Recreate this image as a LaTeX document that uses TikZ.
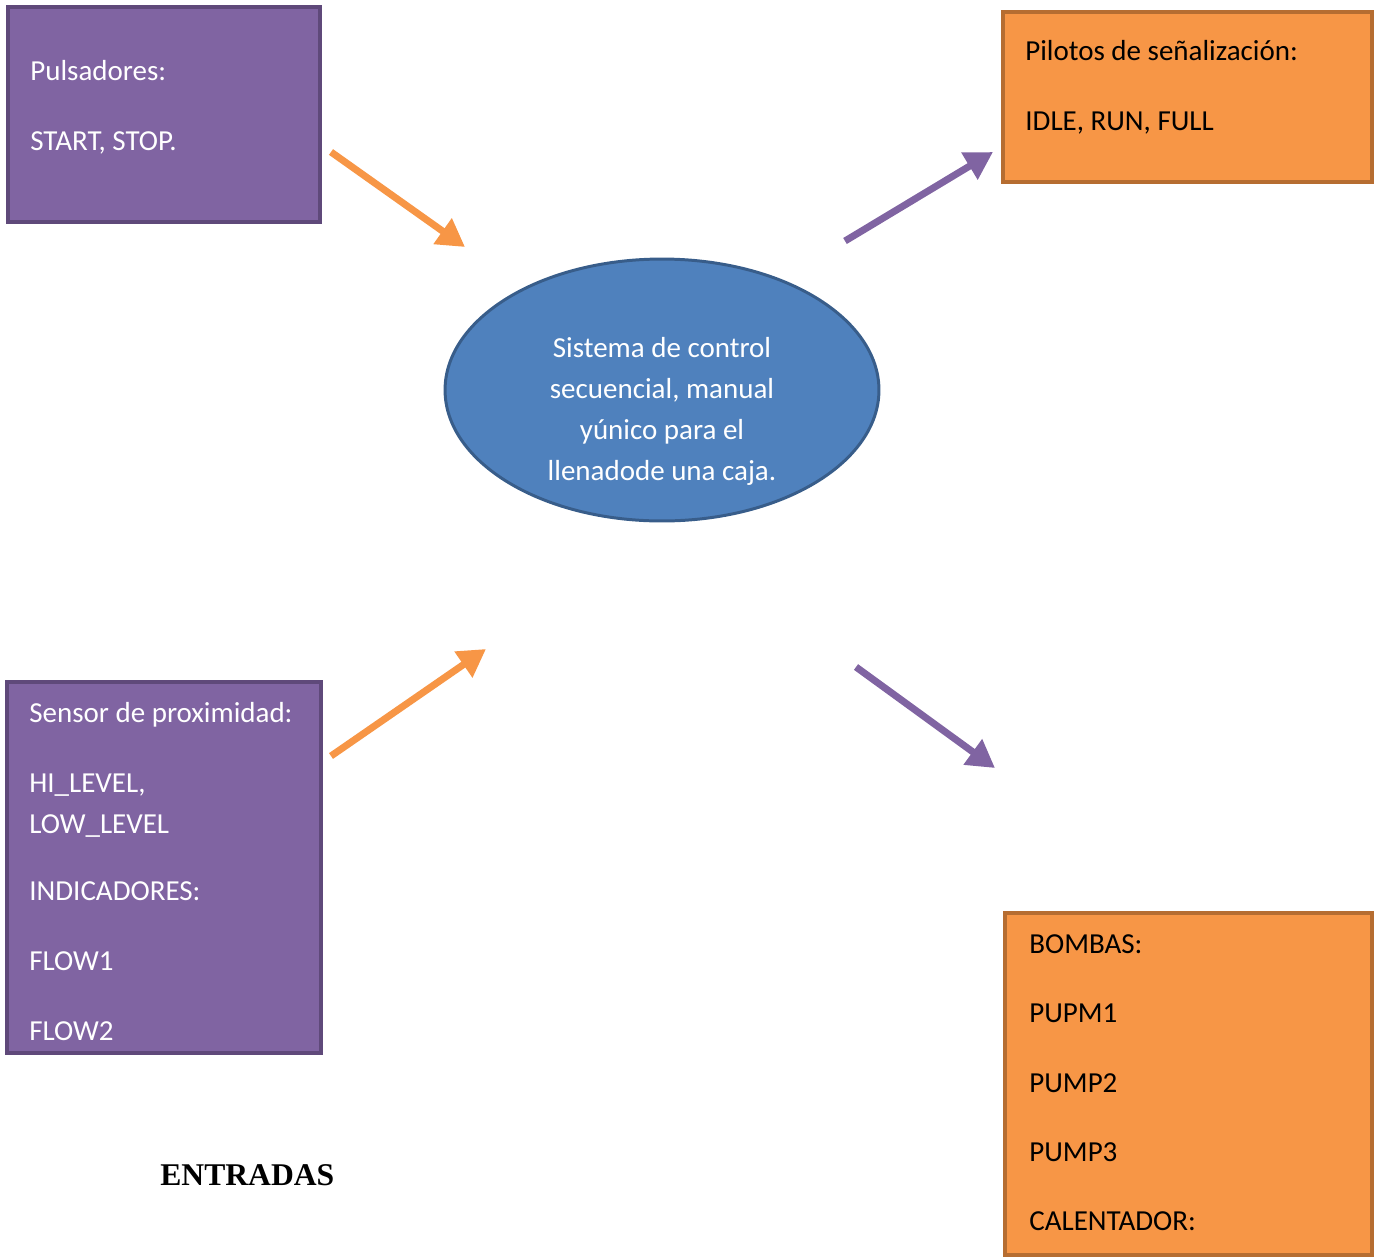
\documentclass[tikz,border=0pt]{standalone}
\usepackage{fontspec}
\setmainfont{Carlito}
\newfontfamily\serifbold{Liberation Serif}
\usetikzlibrary{positioning,arrows.meta,shapes.geometric}
\definecolor{violeta}{HTML}{8064A2}
\definecolor{violetaborde}{HTML}{5F497A}
\definecolor{naranja}{HTML}{F79646}
\definecolor{naranjaborde}{HTML}{B66D31}
\definecolor{azul}{HTML}{4F81BD}
\definecolor{azulborde}{HTML}{385D8A}

\begin{document}
\begin{tikzpicture}[x=0.02cm, y=-0.02cm,
  entrada/.style={rectangle, draw=violetaborde, fill=violeta, line width=2.3pt},
  salida/.style={rectangle, draw=naranjaborde, fill=naranja, line width=2.5pt},
  texto/.style={align=left, anchor=north west, inner sep=0pt, font=\fontsize{16.5}{23.3}\selectfont},
  flecha/.style={line width=0.14cm, -{Triangle[length=0.55cm,width=0.6cm]}},]
\useasboundingbox (0,0) rectangle (1375,1258);

%Nodes
\node[entrada, minimum width=6.24cm, minimum height=4.30cm] (puls) at (164,114.5) {};
\node[salida, minimum width=7.38cm, minimum height=3.40cm] (pilot) at (1187.5,97) {};
\node[entrada, minimum width=6.28cm, minimum height=7.42cm] (sens) at (164,867.5) {};
\node[salida, minimum width=7.34cm, minimum height=6.84cm] (bomb) at (1188.5,1084) {};
\node[ellipse, draw=azulborde, fill=azul, line width=1.7pt, minimum width=8.68cm, minimum height=5.24cm] (sist) at (662,390) {};

%Texts
\node[texto, text=white] (pulstxt) at (30,60) {Pulsadores:\\[0.58cm] START, STOP.};
\node[texto] (pilottxt) at (1025,40) {Pilotos de señalización:\\[0.58cm] IDLE, RUN, FULL};
\node[texto, text=white] (senstxt) at (29,702) {Sensor de proximidad:\\[0.58cm] HI\_LEVEL,\\ LOW\_LEVEL\\[0.52cm] INDICADORES:\\[0.58cm] FLOW1\\[0.58cm] FLOW2};
\node[texto] (bombtxt) at (1029,934) {BOMBAS:\\[0.57cm] PUPM1\\[0.57cm] PUMP2\\[0.57cm] PUMP3\\[0.57cm] CALENTADOR:};
\node[texto, text=white, align=center, anchor=north] (sisttxt) at (662,337) {Sistema de control\\ secuencial, manual\\ yúnico para el\\ llenadode una caja.};
\node[anchor=base west, inner sep=0pt, font=\serifbold\bfseries\fontsize{18}{22}\selectfont] (entr) at (160,1185) {ENTRADAS};

%Lines
\coordinate (a1) at (331,152); \coordinate (a1f) at (465,247);
\coordinate (a2) at (845,241); \coordinate (a2f) at (993,152);
\coordinate (a3) at (331,756); \coordinate (a3f) at (486,649);
\coordinate (a4) at (856,667); \coordinate (a4f) at (995,768);
\draw[flecha, naranja] (a1) -- (a1f);
\draw[flecha, violeta] (a2) -- (a2f);
\draw[flecha, naranja] (a3) -- (a3f);
\draw[flecha, violeta] (a4) -- (a4f);

\end{tikzpicture}
\end{document}
